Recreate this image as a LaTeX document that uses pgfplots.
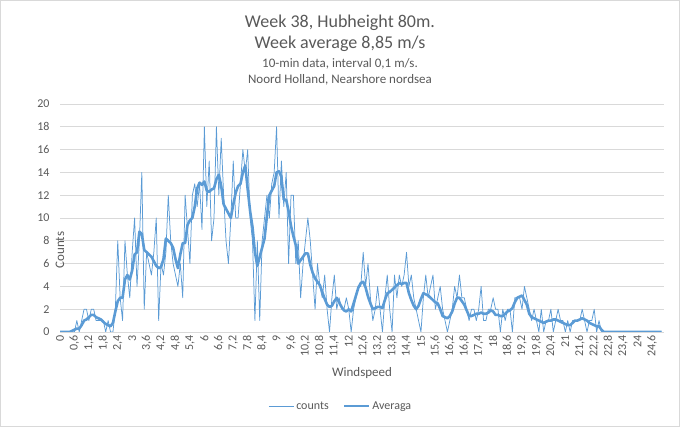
\documentclass[border=0pt]{standalone}
\usepackage{fontspec}
\setmainfont{Carlito}
\usepackage{pgfplots}
\pgfplotsset{compat=1.18}
\usepackage{pgfplotstable}
\definecolor{xblue}{HTML}{5B9BD5}
\definecolor{xgrid}{HTML}{D9D9D9}
\definecolor{xtext}{HTML}{595959}

\pgfplotstableread{
c a
0 0
0 0
0 0
0 0
0 0
0 0.1
0 0.2
1 0.3
0 0.3
1 0.6
2 1.0
2 1.1
1 1.3
2 1.5
2 1.5
1 1.3
1 1.2
1 1.1
1 0.9
0 0.7
1 0.6
0 0.5
0 0.8
2 1.8
8 2.7
3 3.0
1 3.0
8 4.6
5 5.0
3 4.6
7 5.4
10 6.8
4 7.0
8 8.8
14 8.6
2 7.2
7 7.0
6 6.8
5 6.6
7 6.2
10 5.8
1 5.6
6 5.7
5 6.4
7 8.2
12 8.0
8 7.8
6 7.4
5 6.4
4 5.6
6 6.8
3 7.8
12 7.8
9 9.4
6 9.8
12 10.0
13 11.0
11 12.6
13 13.1
9 12.9
18 13.2
11 12.4
15 12.3
8 12.5
10 12.6
18 13.4
12 13.8
17 12.8
12 11.2
8 10.8
6 10.4
10 10.0
15 11.2
10 12.2
10 12.8
13 13.0
16 14.0
14 14.6
16 12.5
10 10.6
8 9.2
1 7.0
8 5.8
1 6.6
8 7.4
10 8.2
12 10.2
10 12.0
13 12.4
14 12.8
18 14.0
10 14.1
15 13.6
11 11.6
14 11.6
6 10.6
12 9.3
12 8.4
6 7.6
8 6.0
3 6.3
6 6.6
8 6.9
10 6.9
8 5.9
5 5.2
2 4.7
6 4.4
4 4.1
3 3.5
5 2.9
2 2.4
0 2.2
3 2.3
5 2.7
2 3.0
3 2.6
2 2.2
2 1.9
3 1.8
2 2.0
0 1.8
2 2.5
3 3.2
4 3.9
4 4.3
7 4.4
4 3.9
6 3.1
3 2.5
1 2.0
2 2.1
4 2.2
2 2.2
0 2.1
3 2.8
5 3.4
2 3.5
0 3.7
5 3.9
3 4.1
5 4.3
4 4.2
5 4.3
7 4.3
4 3.4
5 2.8
3 2.3
2 2.0
1 2.3
0 2.9
3 3.4
5 3.3
3 3.2
4 3.0
5 2.8
2 2.6
3 2.5
4 2.0
2 1.4
1 1.3
0 1.2
1 1.4
2 1.8
4 2.5
3 3.0
5 3.0
3 2.7
3 2.4
2 1.9
1 1.4
2 1.4
2 1.5
1 1.6
2 1.6
4 1.7
1 1.6
1 1.6
2 1.7
2 1.9
3 1.8
2 1.5
2 1.5
0 1.4
2 1.4
1 1.6
2 1.8
2 1.9
0 2.1
3 2.6
3 3.0
3 3.1
2 3.2
4 2.8
3 2.4
2 1.6
1 1.3
2 1.2
1 1.1
0 1.0
2 0.9
0 0.8
1 0.9
1 1.0
2 1.0
0 1.1
1 1.1
2 1.0
1 0.9
1 0.8
0 0.7
1 0.6
0 0.6
1 0.8
1 1.0
1 1.0
1 1.1
2 1.2
1 1.1
0 1.0
1 0.8
1 0.7
2 0.6
0 0.5
1 0.5
0 0.2
0 0
0 0
0 0
0 0
0 0
0 0
0 0
0 0
0 0
0 0
0 0
0 0
0 0
0 0
0 0
0 0
0 0
0 0
0 0
0 0
0 0
0 0
0 0
0 0
0 0
}\datatable

\begin{document}
\begin{tikzpicture}[x=1pt,y=1pt]
\useasboundingbox (0,0) rectangle (680,427);
\draw[xgrid] (0.5,0.5) rectangle (679.5,426.5);
\node[text=xtext, font=\fontsize{18}{20}\selectfont] at (340,404) {Week 38, Hubheight 80m.};
\node[text=xtext, font=\fontsize{18}{20}\selectfont] at (340,383) {Week average 8,85 m/s};
\node[text=xtext, font=\fontsize{13}{15}\selectfont] at (340,363) {10-min data, interval 0,1 m/s.};
\node[text=xtext, font=\fontsize{13}{15}\selectfont] at (340,347) {Noord Holland, Nearshore nordsea};
\begin{axis}[
  at={(60pt,95pt)}, anchor=south west,
  scale only axis, width=604pt, height=228pt,
  xmin=0, xmax=251, ymin=0, ymax=20,
  ytick={0,2,...,20},
  xtick={0,6,...,246},
  xticklabels={0,{0,6},{1,2},{1,8},{2,4},3,{3,6},{4,2},{4,8},{5,4},6,{6,6},{7,2},{7,8},{8,4},9,{9,6},{10,2},{10,8},{11,4},12,{12,6},{13,2},{13,8},{14,4},15,{15,6},{16,2},{16,8},{17,4},18,{18,6},{19,2},{19,8},{20,4},21,{21,6},{22,2},{22,8},{23,4},24,{24,6}},
  /pgf/number format/assume math mode=true,
  x tick label style={rotate=90, anchor=east, text=xtext, font=\fontsize{12}{14}\selectfont},
  y tick label style={text=xtext, font=\fontsize{12}{14}\selectfont, xshift=-7pt},
  major tick length=0pt,
  axis line style={draw=none},
  ymajorgrids, grid style={xgrid, line width=0.75pt},
  xlabel={Windspeed}, ylabel={Counts},
  xlabel style={at={(axis description cs:0.5,0)}, yshift=-41pt, anchor=center, text=xtext, font=\fontsize{13}{15}\selectfont},
  ylabel style={at={(axis description cs:0,0.5)}, xshift=-32pt, anchor=center, rotate=0, text=xtext, font=\fontsize{13}{15}\selectfont},
  legend style={at={(axis description cs:0.465,-0.325)}, anchor=center, draw=none, fill=none, legend columns=2, font=\fontsize{12}{14}\selectfont, text=xtext, /tikz/every even column/.append style={column sep=12pt}},
  legend image code/.code={\draw[#1] (0pt,0pt) -- (25pt,0pt);},
]
\addplot[xblue, line width=0.75pt, line join=round] table[x expr=\coordindex, y=c] {\datatable};
\addlegendentry{counts}
\addplot[xblue, line width=2.6pt, line join=round] table[x expr=\coordindex, y=a] {\datatable};
\addlegendentry{Averaga}
\end{axis}
\end{tikzpicture}
\end{document}
